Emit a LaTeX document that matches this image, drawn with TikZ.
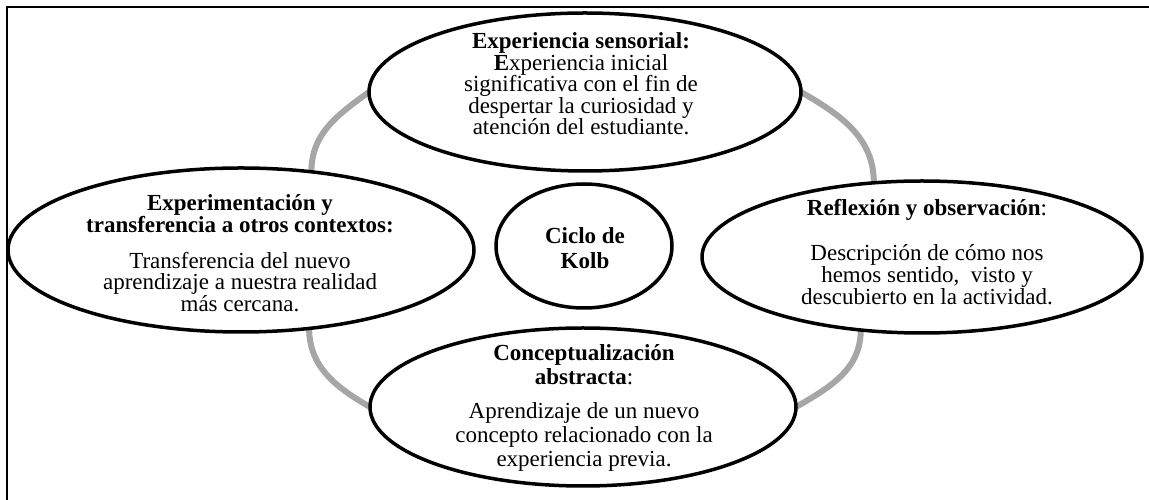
\documentclass[tikz,border=0pt]{standalone}
\usepackage{fontspec}
\setmainfont{Liberation Serif}
\usetikzlibrary{shapes.geometric,backgrounds}
\definecolor{linkgray}{HTML}{A6A6A6}
\begin{document}
\begin{tikzpicture}[x=1pt,y=1pt,
  bub/.style={ellipse, draw=black, line width=3.5pt, fill=white, inner sep=0pt, outer sep=0pt},
  txt/.style={anchor=north, inner sep=0pt, align=center, font=\fontsize{23}{21.5}\selectfont},
  link/.style={draw=linkgray, line width=6pt}]
\useasboundingbox (0,0) rectangle (1149,500);
\draw[line width=2pt] (7,0) -- (7,493) -- (1149,493);

\node[bub, minimum width=432pt, minimum height=158pt] (top) at (585,408) {};
\node[bub, minimum width=466pt, minimum height=164pt] (left) at (241,250) {};
\node[bub, minimum width=440pt, minimum height=152pt] (right) at (922,243) {};
\node[bub, minimum width=426pt, minimum height=158pt] (bottom) at (583,93) {};
\node[bub, minimum width=176pt, minimum height=124pt] (kolb) at (584,254) {};

\node[txt] (toptxt) at (581,467.5)
  {\textbf{Experiencia sensorial:}\\ \textbf{E}xperiencia inicial\\ significativa con el fin de\\ despertar la curiosidad y\\ atención del estudiante.};
\node[txt] (lefttxt) at (240,305.5)
  {\textbf{Experimentación y}\\ \textbf{transferencia a otros contextos:}\\[14.5pt] Transferencia del nuevo\\ aprendizaje a nuestra realidad\\ más cercana.};
\node[txt, font=\fontsize{23}{22}\selectfont] (righttxt) at (927,301)
  {\textbf{Reflexión y observación}:\\[23pt] Descripción de cómo nos\\ hemos sentido,\ \ visto y\\ descubierto en la actividad.};
\node[txt, font=\fontsize{23}{24}\selectfont] (bottomtxt) at (584,155.5)
  {\textbf{Conceptualización}\\ \textbf{abstracta}:\\[10pt] Aprendizaje de un nuevo\\ concepto relacionado con la\\ experiencia previa.};
\node[txt, font=\fontsize{23}{25}\selectfont] (kolbtxt) at (585,273)
  {\textbf{Ciclo de}\\ \textbf{Kolb}};

\begin{pgfonlayer}{background}
\draw[link] (top.west) to[out=216,in=90] (left.48);
\draw[link] (top.east) to[out=-30,in=90] (right.123);
\draw[link] (right.230) to[out=-90,in=30] (bottom.east);
\draw[link] (left.311) to[out=-90,in=150] (bottom.west);
\end{pgfonlayer}
\end{tikzpicture}
\end{document}
